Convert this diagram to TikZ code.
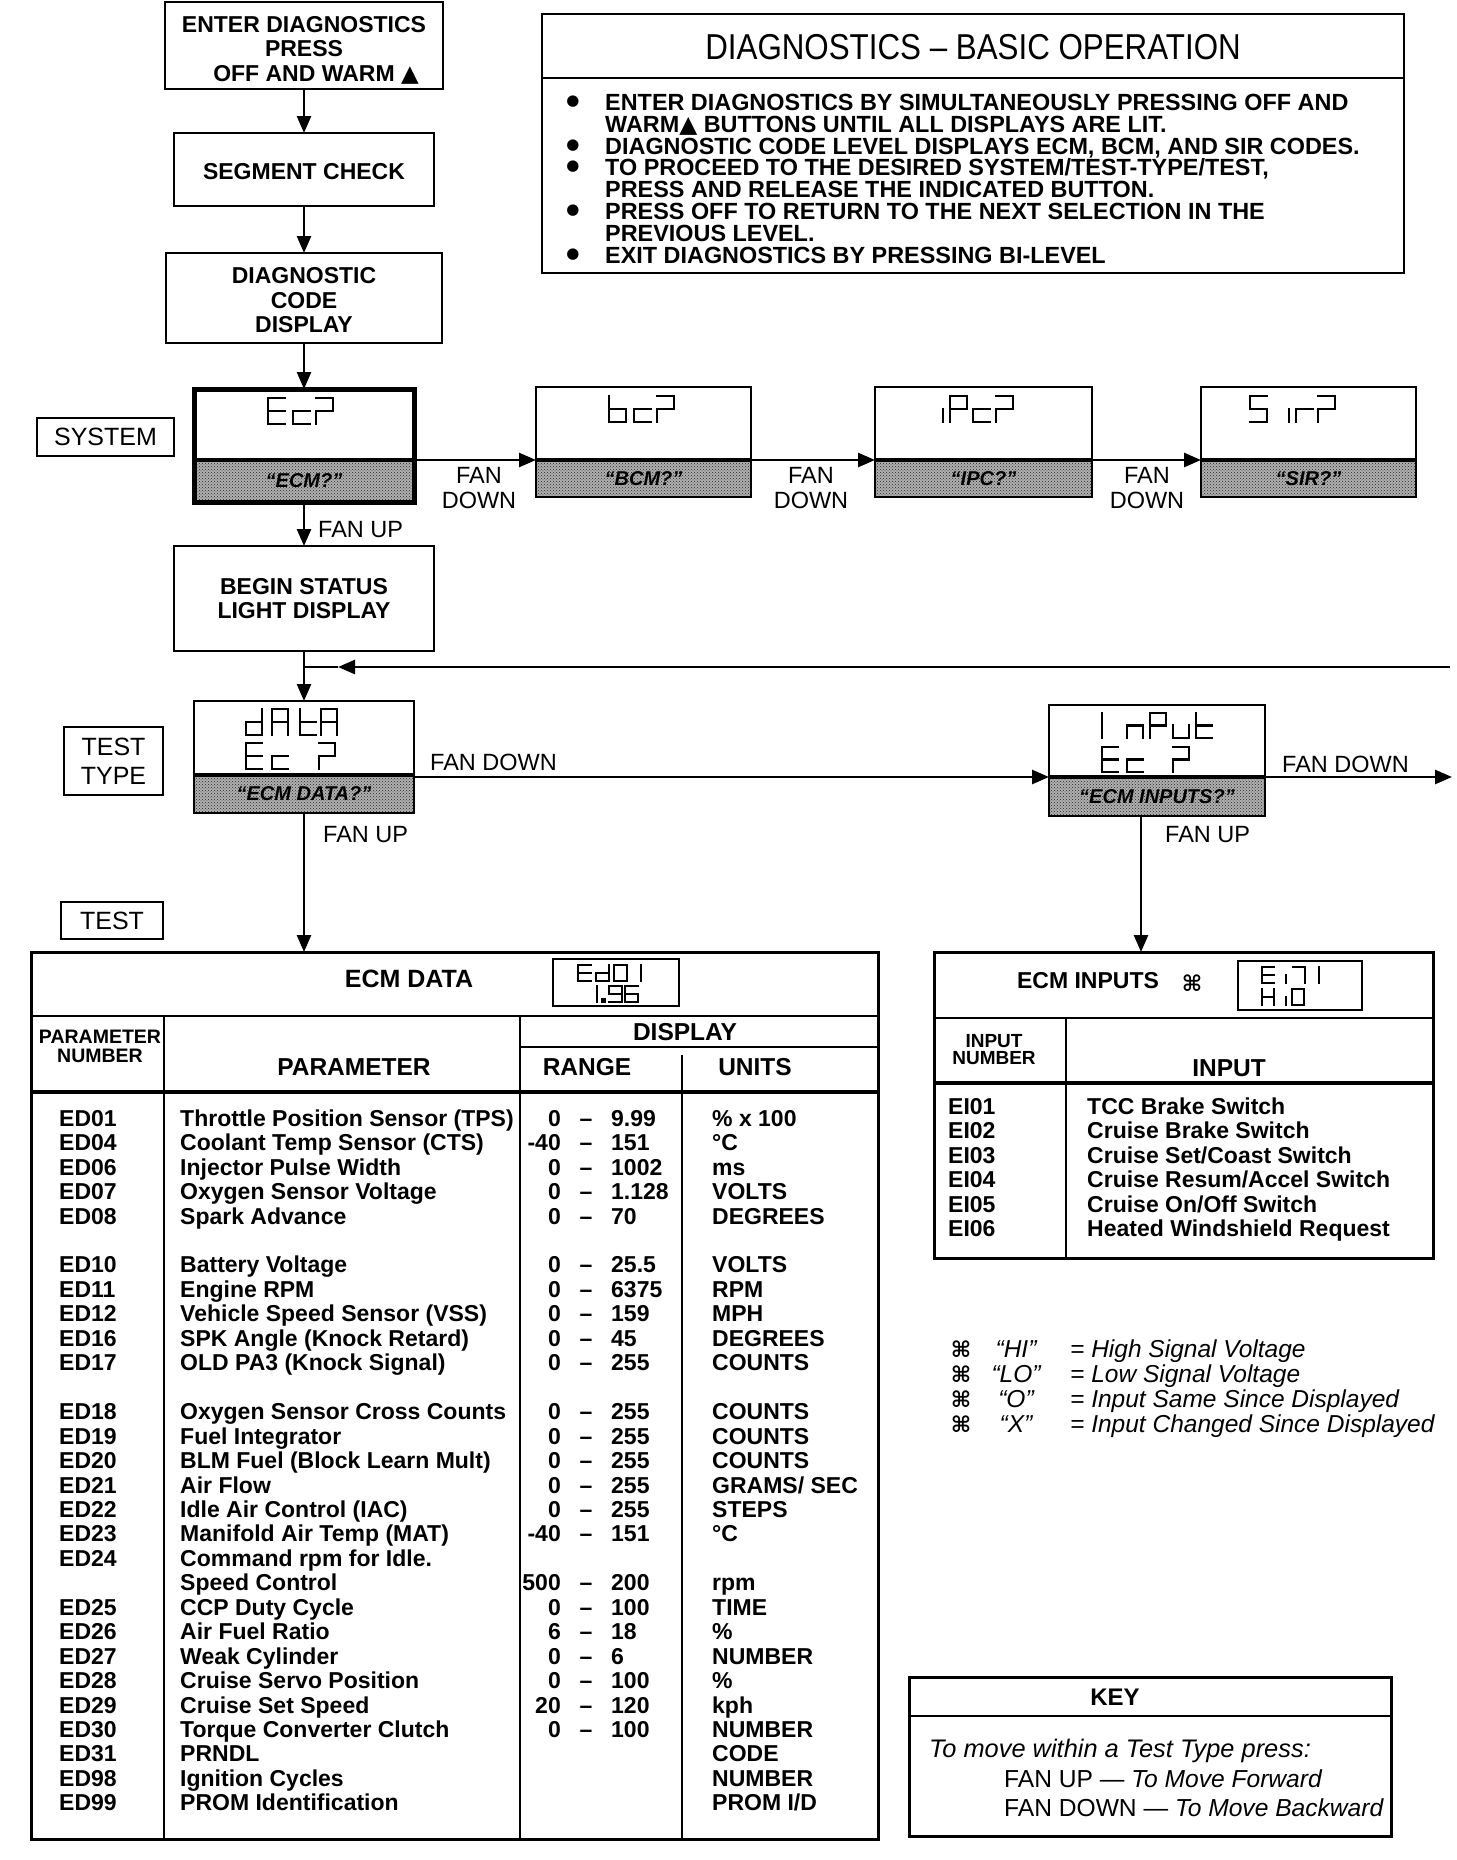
\documentclass[tikz,border=0pt]{standalone}
\usepackage{fontspec}
\setmainfont{Liberation Sans}
\newfontfamily\symf{DejaVu Sans}
\usetikzlibrary{arrows.meta,patterns}
\newcommand\fs[2]{\fontsize{#1}{#2}\selectfont}
\def\lcdw{17}\def\lcdh{26}\def\lcdm{13}
\newcommand\setlcd[2]{\def\lcdw{#1}\def\lcdh{#2}\pgfmathsetmacro\lcdm{#2/2}}
\newcommand\lcdg[9]{%
 \begin{scope}[shift={(#1,#2)}]
 \if1#3\draw[lcd](0,0)--(\lcdw,0);\fi
 \if1#4\draw[lcd](\lcdw,0)--(\lcdw,\lcdm);\fi
 \if1#5\draw[lcd](\lcdw,\lcdm)--(\lcdw,\lcdh);\fi
 \if1#6\draw[lcd](0,\lcdh)--(\lcdw,\lcdh);\fi
 \if1#7\draw[lcd](0,\lcdm)--(0,\lcdh);\fi
 \if1#8\draw[lcd](0,0)--(0,\lcdm);\fi
 \if1#9\draw[lcd](0,\lcdm)--(\lcdw,\lcdm);\fi
 \end{scope}}
\newcommand\lbox[8]{%
 \fill[gray!62] (#2,#6) rectangle (#4,#5);
 \fill[pattern=crosshatch dots, pattern color=black!85] (#2,#6) rectangle (#4,#5);
 \draw[line width=3.5pt] (#2,#6) -- (#4,#6);
 \node[draw, line width=#8, inner sep=0pt, outer sep=0pt, minimum width={#4pt-#2pt}, minimum height={#5pt-#3pt}] (#1) at ({(#2+#4)/2},{(#3+#5)/2}) {};
 \node[hlab] (#1l) at ({(#2+#4)/2},{(#6+#5)/2}) {#7};
}
\newcommand\drow[6]{%
 \pgfmathsetmacro\yy{1118+24.45*#1}%
 \if\relax\detokenize{#2}\relax\else\node[dcell] (dc#1) at (59,\yy) {#2};\fi
 \node[dcell] (dp#1) at (180,\yy) {#3};
 \if\relax\detokenize{#4}\relax\else
   \node[dcell,anchor=east] (dl#1) at (561,\yy) {#4};
   \node[dcell,anchor=center] (dd#1) at (586,\yy) {--};
   \node[dcell] (dh#1) at (611,\yy) {#5};
 \fi
 \if\relax\detokenize{#6}\relax\else\node[dcell] (du#1) at (712,\yy) {#6};\fi
}
\newcommand\irow[3]{%
 \pgfmathsetmacro\yy{1106+24.5*#1}%
 \node[dcell] (ic#1) at (948,\yy) {#2};
 \node[dcell] (it#1) at (1087,\yy) {#3};
}
\newcommand\lrow[3]{%
 \pgfmathsetmacro\yy{1349+25*#1}%
 \node[inner sep=0pt, font=\bfseries\fs{22}{24}] (ls#1) at (961,\yy) {\symf ⌘};
 \node[legt, anchor=center] (lq#1) at (1016,\yy) {#2};
 \node[legt] (lt#1) at (1070,\yy) {#3};
}
\newcommand\opl[3]{\node[opt] (o#1) at (605,#2) {#3};}
\newcommand\opb[2]{\node[inner sep=0pt, font=\fs{15}{16}] (b#1) at (573,#2) {\symf ●};}
\begin{document}
\begin{tikzpicture}[x=1pt,y=-1pt,
  box/.style={draw, line width=2.6pt, inner sep=0pt, outer sep=0pt, align=center, font=\bfseries\fs{23}{24.5}},
  lab/.style={draw, line width=2.6pt, inner sep=0pt, outer sep=0pt, align=center, font=\fs{25}{29}},
  arr/.style={line width=2.6pt, -{Triangle[length=17pt,width=14pt]}},
  ln/.style={line width=2.6pt},
  tl/.style={line width=2.8pt},
  fan/.style={inner sep=0pt, align=center, font=\fs{23.5}{25}},
  hlab/.style={inner sep=0pt, font=\bfseries\itshape\fs{20}{22}},
  lcd/.style={line width=2.2pt, line cap=rect},
  dcell/.style={inner sep=0pt, anchor=west, font=\bfseries\fs{23}{24}, text height=16.5pt, text depth=0pt},
  th/.style={inner sep=0pt, font=\bfseries\fs{24.5}{26}},
  thS/.style={inner sep=0pt, align=center, font=\bfseries\fs{19.5}{19}},
  opt/.style={inner sep=0pt, anchor=west, font=\bfseries\fs{23.4}{24}, text height=16.8pt, text depth=0pt},
  legt/.style={inner sep=0pt, anchor=west, font=\itshape\fs{24.5}{26}, text height=17.5pt, text depth=0pt},
  kt/.style={inner sep=0pt, anchor=west, text height=16.5pt, text depth=0pt}
]
\path[use as bounding box, fill=white] (0,0) rectangle (1456,1860);

% ---------- basic operation box ----------
\node[draw, line width=2.6pt, inner sep=0pt, outer sep=0pt, minimum width=862pt, minimum height=259pt] (ops) at (973,143.5) {};
\draw[ln] (542,78) -- (1404,78);
\node[inner sep=0pt, font=\fs{36}{38}] (opst) at (973,47) {\scalebox{0.87}[1]{DIAGNOSTICS -- BASIC OPERATION}};
\opb{0}{102}\opl{0}{102}{ENTER DIAGNOSTICS BY SIMULTANEOUSLY PRESSING OFF AND}
\opl{1}{124}{WARM{\symf ▲} BUTTONS UNTIL ALL DISPLAYS ARE LIT.}
\opb{2}{146}\opl{2}{146}{DIAGNOSTIC CODE LEVEL DISPLAYS ECM, BCM, AND SIR CODES.}
\opb{3}{167}\opl{3}{167}{TO PROCEED TO THE DESIRED SYSTEM/TEST-TYPE/TEST,}
\opl{4}{189}{PRESS AND RELEASE THE INDICATED BUTTON.}
\opb{5}{211}\opl{5}{211}{PRESS OFF TO RETURN TO THE NEXT SELECTION IN THE}
\opl{6}{233}{PREVIOUS LEVEL.}
\opb{7}{255}\opl{7}{255}{EXIT DIAGNOSTICS BY PRESSING BI-LEVEL}

% ---------- flow boxes ----------
\node[box, minimum width=278pt, minimum height=87pt] (enter) at (304,45.5) {\rule{0pt}{25pt}ENTER DIAGNOSTICS\\PRESS\\\hspace*{24pt}OFF AND WARM {\symf ▲}};
\node[box, minimum width=260pt, minimum height=73pt] (seg) at (304,169.5) {\rule{0pt}{20pt}SEGMENT CHECK};
\node[box, minimum width=276pt, minimum height=90pt] (diag) at (304,298) {\rule{0pt}{21pt}DIAGNOSTIC\\CODE\\DISPLAY};

\lbox{ecm}{194}{389}{414}{502}{460}{“ECM?”}{5pt}
\lbox{bcm}{536}{387}{751}{497}{460}{“BCM?”}{2.6pt}
\lbox{ipc}{875}{387}{1092}{497}{460}{“IPC?”}{2.6pt}
\lbox{sir}{1201}{387}{1416}{497}{460}{“SIR?”}{2.6pt}
\lbox{data}{194}{701}{414}{813}{775}{“ECM DATA?”}{2.6pt}
\lbox{inp}{1049}{705}{1265}{816}{777}{“ECM INPUTS?”}{2.6pt}

\node[lab, minimum width=137pt, minimum height=38pt] (sys) at (105.5,437) {SYSTEM};
\node[lab, minimum width=99pt, minimum height=68pt] (tt) at (113.5,761) {TEST\\TYPE};
\node[lab, minimum width=102pt, minimum height=37pt] (tst) at (112,920.5) {TEST};
\node[box, minimum width=260pt, minimum height=105pt] (begin) at (304,598.5) {BEGIN STATUS\\LIGHT DISPLAY};

% ---------- tables ----------
\node[draw, line width=3pt, inner sep=0pt, outer sep=0pt, minimum width=847pt, minimum height=887pt] (edt) at (454.5,1395.5) {};
\draw[tl] (31,1016) -- (878,1016);
\draw[tl] (164,1016) -- (164,1839);
\draw[tl] (520,1016) -- (520,1839);
\draw[tl] (520,1047) -- (878,1047);
\draw[tl] (682,1055) -- (682,1839);
\draw[line width=3.4pt] (31,1092) -- (878,1092);
\node[draw, line width=2.4pt, inner sep=0pt, outer sep=0pt, minimum width=126pt, minimum height=47pt] (edd) at (616,982.5) {};
\node[th, font=\bfseries\fs{25}{27}] (edtt) at (409,979) {ECM DATA};
\node[thS] (hpn) at (100,1046.5) {PARAMETER\\NUMBER};
\node[th] (hp) at (354,1067) {PARAMETER};
\node[th] (hd) at (685,1032) {DISPLAY};
\node[th] (hr) at (587,1067) {RANGE};
\node[th] (hu) at (755,1067) {UNITS};

\drow{0}{ED01}{Throttle Position Sensor (TPS)}{0}{9.99}{\% x 100}
\drow{1}{ED04}{Coolant Temp Sensor (CTS)}{-40}{151}{°C}
\drow{2}{ED06}{Injector Pulse Width}{0}{1002}{ms}
\drow{3}{ED07}{Oxygen Sensor Voltage}{0}{1.128}{VOLTS}
\drow{4}{ED08}{Spark Advance}{0}{70}{DEGREES}
\drow{6}{ED10}{Battery Voltage}{0}{25.5}{VOLTS}
\drow{7}{ED11}{Engine RPM}{0}{6375}{RPM}
\drow{8}{ED12}{Vehicle Speed Sensor (VSS)}{0}{159}{MPH}
\drow{9}{ED16}{SPK Angle (Knock Retard)}{0}{45}{DEGREES}
\drow{10}{ED17}{OLD PA3 (Knock Signal)}{0}{255}{COUNTS}
\drow{12}{ED18}{Oxygen Sensor Cross Counts}{0}{255}{COUNTS}
\drow{13}{ED19}{Fuel Integrator}{0}{255}{COUNTS}
\drow{14}{ED20}{BLM Fuel (Block Learn Mult)}{0}{255}{COUNTS}
\drow{15}{ED21}{Air Flow}{0}{255}{GRAMS/ SEC}
\drow{16}{ED22}{Idle Air Control (IAC)}{0}{255}{STEPS}
\drow{17}{ED23}{Manifold Air Temp (MAT)}{-40}{151}{°C}
\drow{18}{ED24}{Command rpm for Idle.}{}{}{}
\drow{19}{}{Speed Control}{500}{200}{rpm}
\drow{20}{ED25}{CCP Duty Cycle}{0}{100}{TIME}
\drow{21}{ED26}{Air Fuel Ratio}{6}{18}{\%}
\drow{22}{ED27}{Weak Cylinder}{0}{6}{NUMBER}
\drow{23}{ED28}{Cruise Servo Position}{0}{100}{\%}
\drow{24}{ED29}{Cruise Set Speed}{20}{120}{kph}
\drow{25}{ED30}{Torque Converter Clutch}{0}{100}{NUMBER}
\drow{26}{ED31}{PRNDL}{}{}{CODE}
\drow{27}{ED98}{Ignition Cycles}{}{}{NUMBER}
\drow{28}{ED99}{PROM Identification}{}{}{PROM I/D}

\node[draw, line width=3pt, inner sep=0pt, outer sep=0pt, minimum width=499pt, minimum height=306pt] (edi) at (1183.5,1105) {};
\draw[tl] (934,1018) -- (1433,1018);
\draw[tl] (1066,1018) -- (1066,1258);
\draw[line width=3.4pt] (934,1083) -- (1433,1083);
\node[draw, line width=2.4pt, inner sep=0pt, outer sep=0pt, minimum width=124pt, minimum height=49pt] (eid) at (1300,985.5) {};
\node[th, font=\bfseries\fs{23}{25}] (eitt) at (1088,981) {ECM INPUTS};
\node[inner sep=0pt, font=\bfseries\fs{22}{24}] (eisym) at (1192,983) {\symf ⌘};
\node[thS, font=\bfseries\fs{19}{17}] (hin) at (994,1049.5) {INPUT\\NUMBER};
\node[th] (hi) at (1229,1068) {INPUT};
\irow{0}{EI01}{TCC Brake Switch}
\irow{1}{EI02}{Cruise Brake Switch}
\irow{2}{EI03}{Cruise Set/Coast Switch}
\irow{3}{EI04}{Cruise Resum/Accel Switch}
\irow{4}{EI05}{Cruise On/Off Switch}
\irow{5}{EI06}{Heated Windshield Request}

% ---------- legend ----------
\lrow{0}{“HI”}{= High Signal Voltage}
\lrow{1}{“LO”}{= Low Signal Voltage}
\lrow{2}{“O”}{= Input Same Since Displayed}
\lrow{3}{“X”}{= Input Changed Since Displayed}

% ---------- key ----------
\node[draw, line width=3pt, inner sep=0pt, outer sep=0pt, minimum width=482pt, minimum height=159pt] (key) at (1150,1756.5) {};
\draw[tl] (909,1716) -- (1391,1716);
\node[th, font=\bfseries\fs{24}{26}] (keyt) at (1115,1697) {KEY};
\node[kt, font=\itshape\fs{25.4}{27}] (k1) at (929,1749) {To move within a Test Type press:};
\node[kt, font=\fs{24.6}{26}] (k2) at (1004,1779) {FAN UP --- \textit{To Move Forward}};
\node[kt, font=\fs{24.6}{26}] (k3) at (1004,1808) {FAN DOWN --- \textit{To Move Backward}};

% ---------- connectors ----------
\draw[arr] (enter) -- (seg);
\draw[arr] (seg) -- (diag);
\draw[arr] (diag) -- (ecm);
\coordinate (r1) at (0,460);
\draw[arr] (ecm.east |- r1) -- (bcm.west |- r1);
\draw[arr] (bcm.east |- r1) -- (ipc.west |- r1);
\draw[arr] (ipc.east |- r1) -- (sir.west |- r1);
\draw[arr] (ecm) -- (begin);
\draw[arr] (begin) -- (data);
\coordinate (fbR) at (1450,667);
\coordinate (fbA) at (338,667);
\coordinate (fbJ) at (304,667);
\draw[arr] (fbR) -- (fbA);
\draw[ln] (fbA) -- (fbJ);
\coordinate (r2) at (0,777);
\draw[arr] (data.east |- r2) -- (inp.west |- r2);
\coordinate (fdR) at (1452,777);
\draw[arr] (inp.east |- r2) -- (fdR);
\draw[arr] (data.south) -- (data.south |- edt.north);
\coordinate (iupx) at (1141,0);
\draw[arr] (inp.south -| iupx) -- (edi.north -| iupx);

\node[fan] (fd1) at (479,488) {FAN\\DOWN};
\node[fan] (fd2) at (811,488) {FAN\\DOWN};
\node[fan] (fd3) at (1147,488) {FAN\\DOWN};
\node[fan, anchor=west] (fu1) at (318,530) {FAN UP};
\node[fan, anchor=west] (fd4) at (430,762) {FAN DOWN};
\node[fan, anchor=west] (fd5) at (1282,764) {FAN DOWN};
\node[fan, anchor=west] (fu2) at (323,835) {FAN UP};
\node[fan, anchor=west] (fu3) at (1165,835) {FAN UP};

% ---------- LCD glyphs ----------
\setlcd{17}{26}
\lcdg{268}{398}1001111 \lcdg{293}{398}0001101 \lcdg{316}{398}1100101
\lcdg{609}{396}0011111 \lcdg{634}{396}0001101 \lcdg{657}{396}1100101
\lcdg{943}{396}0000100 \lcdg{950}{396}1100111 \lcdg{973}{396}0001101 \lcdg{996}{396}1100101
\lcdg{1250}{396}1011011 \lcdg{1289}{396}0000100 \lcdg{1296}{396}0000101 \lcdg{1318}{396}1100101
\setlcd{16}{26}
\lcdg{246}{709}0111101 \lcdg{272}{709}1110111 \lcdg{300}{709}0001111 \lcdg{321}{709}1110111
\lcdg{246}{743}1001111 \lcdg{272}{743}0001101 \lcdg{319}{743}1100101
\setlcd{16}{25}
\lcdg{1102}{713}0000110 \lcdg{1127}{713}0010101 \lcdg{1150}{713}1100111 \lcdg{1173}{713}0011100 \lcdg{1196}{713}0001111
\lcdg{1102}{747}1001111 \lcdg{1127}{747}0001101 \lcdg{1173}{747}1100101
\setlcd{13}{16}
\lcdg{578}{965}1001111 \lcdg{596}{965}0111101 \lcdg{614}{965}1111110 \lcdg{628}{965}0110000
\lcdg{584}{986}0110000 \lcdg{609}{986}1111011 \lcdg{625}{986}1011111
\fill (601,998) rectangle (606,1003);
\setlcd{12}{16}
\lcdg{1262}{967}1001111 \lcdg{1286}{967}0000100 \lcdg{1293}{967}1110000 \lcdg{1307}{967}0110000
\lcdg{1262}{989}0110111 \lcdg{1286}{989}0000100 \lcdg{1292}{989}1111110
\end{tikzpicture}
\end{document}
